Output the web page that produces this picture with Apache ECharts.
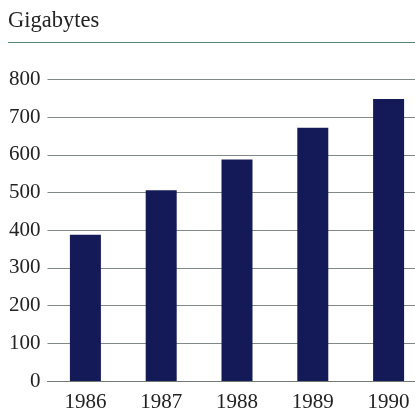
<!DOCTYPE html>
<html>
<head>
<meta charset="utf-8">
<script src="https://cdn.jsdelivr.net/npm/echarts@6/dist/echarts.min.js"></script>
<style>
  html, body { margin: 0; padding: 0; background: #ffffff; }
  #chart { width: 415px; height: 409px; }
</style>
</head>
<body>
<div id="chart"></div>
<script>
// Storage capacity per year, in gigabytes
const years = ['1986', '1987', '1988', '1989', '1990'];
const gigabytes = [388, 506, 588, 672, 748];
const yTicks = { min: 0, max: 800, step: 100 };
const unitLabel = 'Gigabytes';

const serif = '"Liberation Serif", "DejaVu Serif", serif';
const inkColor = '#222222';
const ruleColor = '#7f8a87';
const barColor = '#141a58';

const chart = echarts.init(document.getElementById('chart'), null, { renderer: 'canvas' });

chart.setOption({
  animation: false,
  backgroundColor: '#ffffff',
  grid: {
    left: 47.5,
    top: 79.5,
    bottom: 28,
    width: 379,
    containLabel: false,
    outerBoundsMode: 'none'
  },
  graphic: [
    {
      type: 'text',
      left: 8,
      top: 10,
      style: {
        text: unitLabel,
        font: '22.5px ' + serif,
        fill: inkColor
      }
    },
    {
      type: 'line',
      shape: { x1: 8, y1: 42.5, x2: 415, y2: 42.5 },
      style: { stroke: '#5d7f76', lineWidth: 1.2 }
    }
  ],
  xAxis: {
    type: 'category',
    data: years,
    boundaryGap: true,
    axisLine: { show: true, lineStyle: { color: '#6f7a77', width: 1.2 } },
    axisTick: { show: false },
    axisLabel: {
      margin: 11,
      fontFamily: serif,
      fontSize: 21,
      color: inkColor
    }
  },
  yAxis: {
    type: 'value',
    min: yTicks.min,
    max: yTicks.max,
    interval: yTicks.step,
    axisLine: { show: false },
    axisTick: { show: false },
    axisLabel: {
      margin: 7,
      fontFamily: serif,
      fontSize: 21,
      color: inkColor
    },
    splitLine: { show: true, lineStyle: { color: ruleColor, width: 1.1 } }
  },
  series: [
    {
      type: 'bar',
      data: gigabytes,
      barWidth: 31,
      itemStyle: { color: barColor }
    }
  ]
});
</script>
</body>
</html>
